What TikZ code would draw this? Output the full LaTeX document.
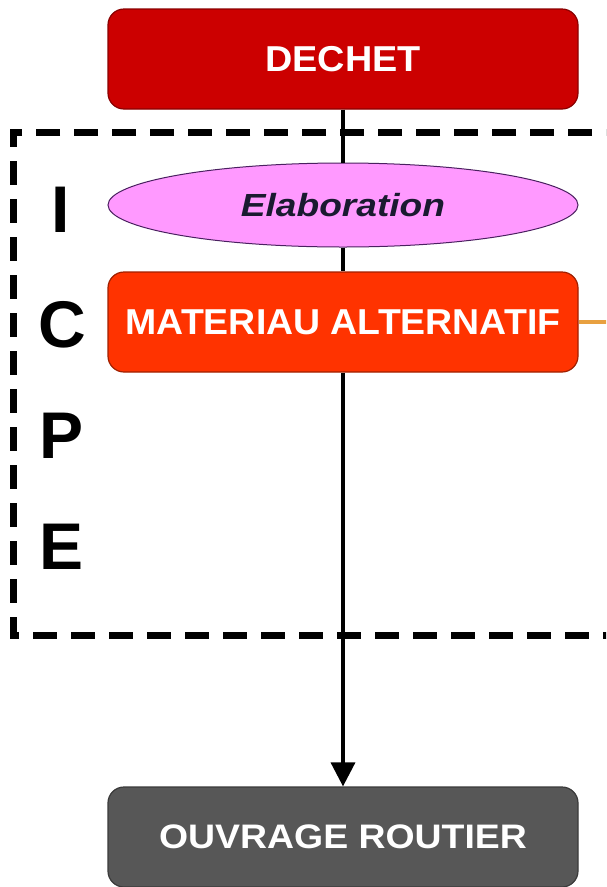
\documentclass[tikz,border=0pt]{standalone}
\usepackage{fontspec}
\setmainfont{Liberation Sans}
\usetikzlibrary{arrows.meta,shapes.geometric}
\definecolor{dechetc}{HTML}{CC0000}
\definecolor{dechetb}{HTML}{8A0000}
\definecolor{matc}{HTML}{FF3300}
\definecolor{matb}{HTML}{A02000}
\definecolor{elabc}{HTML}{FF99FF}
\definecolor{elabb}{HTML}{4A2060}
\definecolor{ouvc}{HTML}{575757}
\definecolor{ouvb}{HTML}{3A3A3A}
\definecolor{orangeline}{HTML}{E8A040}
\definecolor{elabtext}{HTML}{1A1A30}
\begin{document}
\begin{tikzpicture}[x=1pt,y=-1pt,
  box/.style={rectangle, rounded corners=16pt, minimum width=470pt, minimum height=100pt,
    inner sep=0pt, line width=1.2pt, text=white, font=\bfseries\fontsize{36}{40}\selectfont},
  elabbox/.style={ellipse, minimum width=470pt, minimum height=84pt, inner sep=0pt,
    fill=elabc, draw=elabb, line width=1pt, text=elabtext,
    font=\bfseries\itshape\fontsize{32}{36}\selectfont},
  letter/.style={anchor=base, inner sep=0pt, font=\bfseries\fontsize{66}{70}\selectfont, text=black},
  conn/.style={line width=3.5pt, black},
  icpe/.style={line width=7pt, dash pattern=on 24pt off 14pt, black},
  side/.style={line width=3.5pt, orangeline}]
\clip (0,0) rectangle (606,887);
\fill[white] (0,0) rectangle (606,887);
% ICPE dashed frame
\draw[icpe] (630,132) -| (13,635) -- (630,635);
% nodes
\node[box, fill=dechetc, draw=dechetb] (dechet) at (343,59) {\scalebox{1.05}[1]{DECHET}};
\node[elabbox] (elab) at (343,205) {\scalebox{1.16}[1]{Elaboration}};
\node[box, fill=matc, draw=matb] (mat) at (343,322) {\scalebox{1.04}[1]{MATERIAU ALTERNATIF}};
\node[box, fill=ouvc, draw=ouvb, font=\bfseries\fontsize{34}{38}\selectfont] (ouv) at (343,837) {\scalebox{1.1}[1]{OUVRAGE ROUTIER}};
\node[letter] (li) at (61,232) {I};
\node[letter] (lc) at (62,347) {C};
\node[letter] (lp) at (62,458) {P};
\node[letter] (le) at (62,569) {E};
\coordinate (sideend) at (615,322);
% connectors
\draw[conn] (dechet.south) -- (elab.north);
\draw[conn] (elab.south) -- (mat.north);
\draw[conn, -{Triangle[length=24pt,width=24pt]}] (mat.south) -- (ouv.north);
\draw[side] (mat.east) -- (sideend);
\end{tikzpicture}
\end{document}
